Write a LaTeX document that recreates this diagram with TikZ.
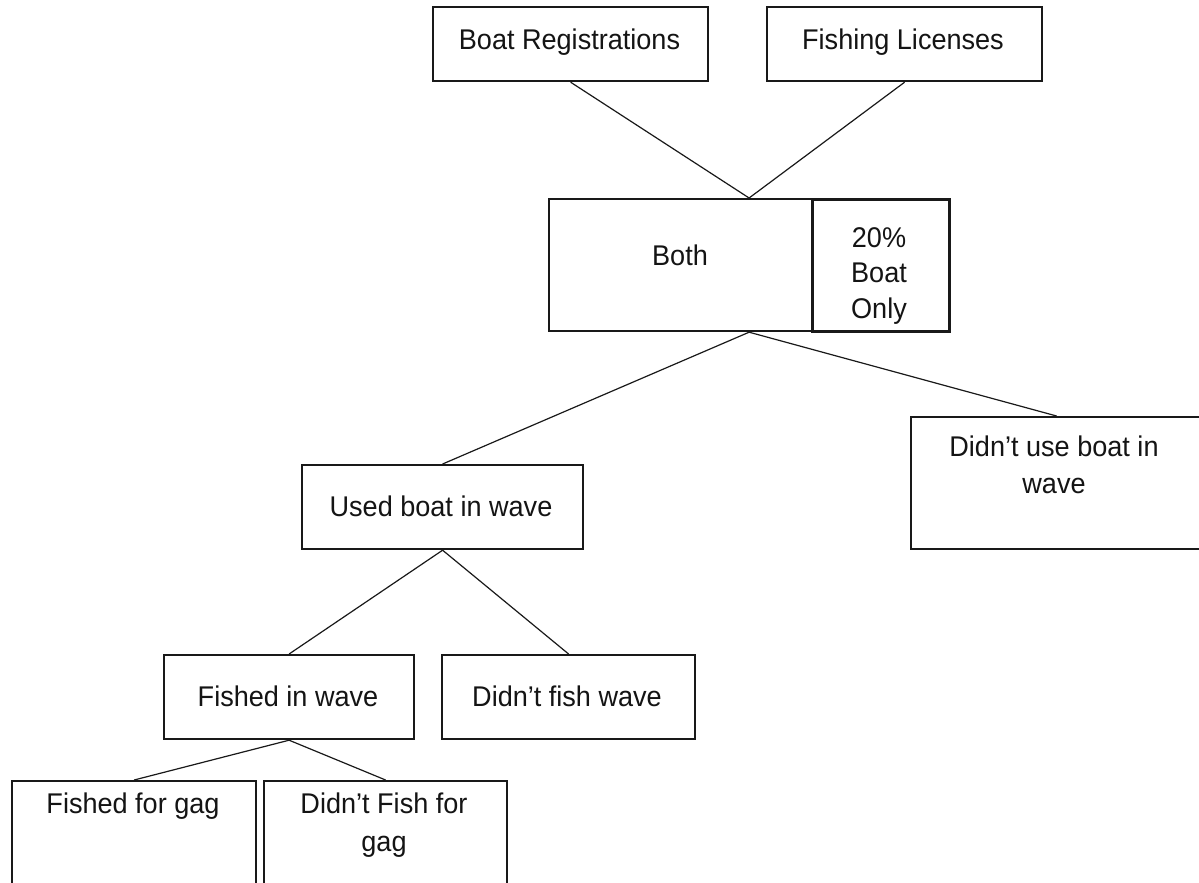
\documentclass[tikz,border=0pt]{standalone}
\usepackage{fontspec}
\setmainfont{Liberation Sans}[FakeStretch=0.95]
\begin{document}
\begin{tikzpicture}[x=1pt,y=-1pt,
  box/.style={draw=black!90, line width=2.2pt, rectangle, inner sep=0pt, anchor=north west},
  thickbox/.style={box, line width=3pt},
  lbl/.style={font=\fontsize{28.5}{36}\selectfont, align=center, inner sep=0pt, text=black!92},
  link/.style={draw=black!90, line width=1.2pt}]
\useasboundingbox[fill=white] (0,0) rectangle (1199,883);
% boxes
\node[box, minimum width=275pt, minimum height=74pt] (br) at (432,6) {};
\node[box, minimum width=275pt, minimum height=74pt] (fl) at (766,6) {};
\node[box, minimum width=400pt, minimum height=132pt] (both) at (548,198) {};
\node[thickbox, minimum width=137pt, minimum height=132pt] (bonly) at (811,198) {};
\node[box, minimum width=281pt, minimum height=84pt] (ubw) at (301,464) {};
\node[box, minimum width=291pt, minimum height=132pt] (dub) at (910,416) {};
\node[box, minimum width=250pt, minimum height=84pt] (fw) at (163,654) {};
\node[box, minimum width=253pt, minimum height=84pt] (dfw) at (441,654) {};
\node[box, minimum width=244pt, minimum height=106pt] (fg) at (11,780) {};
\node[box, minimum width=243pt, minimum height=106pt] (dfg) at (263,780) {};
% labels
\node[lbl] (brt) at (569.5,42) {Boat Registrations};
\node[lbl] (flt) at (903,42) {Fishing Licenses};
\node[lbl] (botht) at (680,255) {Both};
\node[lbl, font=\fontsize{28.5}{35.5}\selectfont] (bonlyt) at (879,276) {20\%\\Boat\\Only};
\node[lbl] (ubwt) at (441,506) {Used boat in wave};
\node[lbl, font=\fontsize{28.5}{37}\selectfont] (dubt) at (1054,465) {Didn’t use boat in\\wave};
\node[lbl] (fwt) at (288,696) {Fished in wave};
\node[lbl] (dfwt) at (567,696) {Didn’t fish wave};
\node[lbl] (fgt) at (133,806) {Fished for gag};
\node[lbl, font=\fontsize{28.5}{38}\selectfont] (dfgt) at (384,825) {Didn’t Fish for\\gag};
% connectors
\draw[link] (br.south) -- (both.north);
\draw[link] (fl.south) -- (both.north);
\draw[link] (both.south) -- (ubw.north);
\draw[link] (both.south) -- (dub.north);
\draw[link] (ubw.south) -- (fw.north);
\draw[link] (ubw.south) -- (dfw.north);
\draw[link] (fw.south) -- (fg.north);
\draw[link] (fw.south) -- (dfg.north);
\end{tikzpicture}
\end{document}
